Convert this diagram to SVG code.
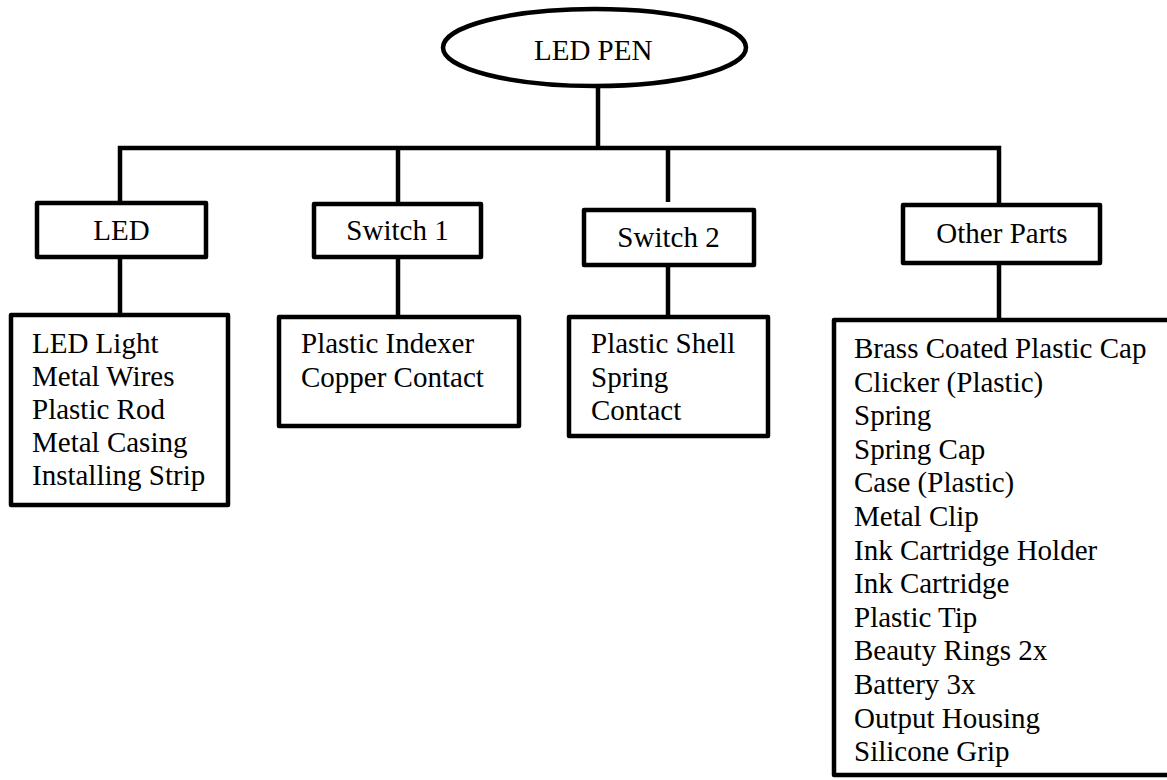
<svg xmlns="http://www.w3.org/2000/svg" width="1167" height="780" viewBox="0 0 1167 780" font-family="'Liberation Serif', Tinos, 'Times New Roman', 'DejaVu Serif', 'Noto Serif', serif">
  <style>
    .box { fill: #ffffff; stroke: #000000; stroke-width: 4.5; stroke-linejoin: round; }
    .ln { fill: none; stroke: #000000; stroke-width: 4.5; stroke-linejoin: miter; stroke-linecap: butt; }
    .t { font-family: 'Liberation Serif', Tinos, 'Times New Roman', 'DejaVu Serif', 'Noto Serif', serif; font-size: 29px; fill: #000000; }
    .c { text-anchor: middle; }
  </style>
  <rect x="0" y="0" width="1167" height="780" fill="#ffffff"/>
  <g id="connectors">
    <path class="ln" d="M598,86 V148"/>
    <path class="ln" d="M120,203 V148 H999 V205"/>
    <path class="ln" d="M398,148 V204"/>
    <path class="ln" d="M668,148 V202"/>
    <path class="ln" d="M120,257 V315"/>
    <path class="ln" d="M398,257 V317"/>
    <path class="ln" d="M668,265 V317"/>
    <path class="ln" d="M999,263 V320"/>
  </g>
  <g id="node-ledpen">
    <ellipse class="box" cx="594.5" cy="47.5" rx="151.5" ry="38.5"/>
    <text class="t" x="534" y="60">LED PEN</text>
  </g>
  <g id="node-led">
    <rect class="box" x="37" y="203" width="169" height="54"/>
    <text class="t c" x="121.5" y="240">LED</text>
  </g>
  <g id="node-switch1">
    <rect class="box" x="314" y="204" width="167" height="53"/>
    <text class="t c" x="397.5" y="240">Switch 1</text>
  </g>
  <g id="node-switch2">
    <rect class="box" x="584" y="210" width="170" height="55"/>
    <text class="t c" x="668.5" y="247">Switch 2</text>
  </g>
  <g id="node-other">
    <rect class="box" x="903" y="205" width="197" height="58"/>
    <text class="t c" x="1002" y="243">Other Parts</text>
  </g>
  <g id="node-led-parts">
    <rect class="box" x="11" y="315" width="217" height="190"/>
    <text class="t" x="32" y="353">LED Light</text>
    <text class="t" x="32" y="386">Metal Wires</text>
    <text class="t" x="32" y="419">Plastic Rod</text>
    <text class="t" x="32" y="452">Metal Casing</text>
    <text class="t" x="32" y="485">Installing Strip</text>
  </g>
  <g id="node-switch1-parts">
    <rect class="box" x="279" y="317" width="240" height="109"/>
    <text class="t" x="301" y="353">Plastic Indexer</text>
    <text class="t" x="301" y="387">Copper Contact</text>
  </g>
  <g id="node-switch2-parts">
    <rect class="box" x="569" y="317" width="199" height="119"/>
    <text class="t" x="591" y="353">Plastic Shell</text>
    <text class="t" x="591" y="386.5">Spring</text>
    <text class="t" x="591" y="420">Contact</text>
  </g>
  <g id="node-other-parts">
    <rect class="box" x="834" y="320" width="400" height="455"/>
    <text class="t" x="854" y="358">Brass Coated Plastic Cap</text>
    <text class="t" x="854" y="391.6">Clicker (Plastic)</text>
    <text class="t" x="854" y="425.2">Spring</text>
    <text class="t" x="854" y="458.8">Spring Cap</text>
    <text class="t" x="854" y="492.4">Case (Plastic)</text>
    <text class="t" x="854" y="526">Metal Clip</text>
    <text class="t" x="854" y="559.6">Ink Cartridge Holder</text>
    <text class="t" x="854" y="593.2">Ink Cartridge</text>
    <text class="t" x="854" y="626.8">Plastic Tip</text>
    <text class="t" x="854" y="660.4">Beauty Rings 2x</text>
    <text class="t" x="854" y="694">Battery 3x</text>
    <text class="t" x="854" y="727.6">Output Housing</text>
    <text class="t" x="854" y="761.2">Silicone Grip</text>
  </g>
</svg>
